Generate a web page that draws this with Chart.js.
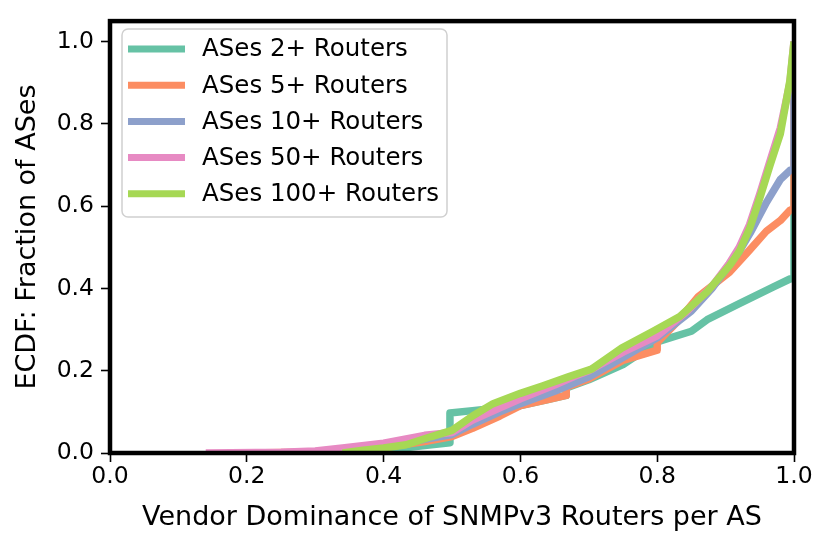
<!DOCTYPE html>
<html lang="en">
<head>
    <meta charset="UTF-8" />
    <title>ECDF - Vendor Dominance of SNMPv3 Routers</title>
    <style>
        html, body {
            margin: 0;
            padding: 0;
            background: #ffffff;
        }
        #wrap {
            width: 831px;
            height: 548px;
        }
    </style>
    <script src="https://cdn.jsdelivr.net/npm/chart.js"></script>
</head>
<body>
<div id="wrap"><canvas id="ecdf" width="831" height="548"></canvas></div>
<script>
    // series labels + colours (Set2)
    const seriesLabels = ['ASes 2+ Routers', 'ASes 5+ Routers', 'ASes 10+ Routers', 'ASes 50+ Routers', 'ASes 100+ Routers'];
    const seriesColors = ['#66c2a5', '#fc8d62', '#8da0cb', '#e78ac3', '#a6d854'];

    // ECDF points
    const x2 = [0.33, 0.38, 0.42, 0.46, 0.497, 0.497, 0.53, 0.56, 0.60, 0.64, 0.667, 0.667, 0.70, 0.75, 0.80, 0.85, 0.873, 0.92, 0.97, 0.994, 1.0, 1.0];
    const y2 = [0.0, 0.005, 0.01, 0.018, 0.025, 0.097, 0.103, 0.108, 0.115, 0.13, 0.14, 0.158, 0.178, 0.215, 0.27, 0.296, 0.324, 0.363, 0.404, 0.423, 0.425, 1.0];

    const x5 = [0.20, 0.33, 0.38, 0.42, 0.46, 0.50, 0.53, 0.57, 0.60, 0.64, 0.667, 0.667, 0.70, 0.75, 0.80, 0.80, 0.83, 0.86, 0.906, 0.936, 0.96, 0.98, 0.994, 1.0, 1.0];
    const y5 = [0.0, 0.003, 0.008, 0.018, 0.028, 0.04, 0.06, 0.09, 0.115, 0.13, 0.14, 0.16, 0.18, 0.225, 0.25, 0.268, 0.32, 0.38, 0.44, 0.495, 0.54, 0.565, 0.59, 0.595, 1.0];

    const x10 = [0.25, 0.33, 0.38, 0.42, 0.46, 0.50, 0.53, 0.57, 0.60, 0.65, 0.70, 0.75, 0.80, 0.85, 0.88, 0.92, 0.936, 0.96, 0.98, 0.994, 1.0, 1.0];
    const y10 = [0.0, 0.004, 0.01, 0.02, 0.033, 0.045, 0.07, 0.1, 0.12, 0.15, 0.185, 0.232, 0.28, 0.345, 0.40, 0.49, 0.535, 0.61, 0.665, 0.687, 0.69, 1.0];

    const x50 = [0.14, 0.25, 0.30, 0.34, 0.40, 0.46, 0.50, 0.53, 0.57, 0.60, 0.65, 0.68, 0.70, 0.75, 0.80, 0.843, 0.88, 0.905, 0.92, 0.935, 0.95, 0.965, 0.98, 0.994, 1.0];
    const y50 = [0.0, 0.002, 0.005, 0.012, 0.024, 0.043, 0.05, 0.08, 0.11, 0.132, 0.165, 0.187, 0.2, 0.245, 0.285, 0.344, 0.405, 0.46, 0.50, 0.555, 0.63, 0.71, 0.79, 0.90, 1.0];

    const x100 = [0.34, 0.37, 0.40, 0.433, 0.47, 0.50, 0.53, 0.56, 0.60, 0.632, 0.67, 0.704, 0.748, 0.794, 0.833, 0.873, 0.906, 0.92, 0.935, 0.95, 0.965, 0.98, 0.994, 1.0];
    const y100 = [0.0, 0.007, 0.012, 0.02, 0.04, 0.055, 0.09, 0.12, 0.145, 0.163, 0.185, 0.204, 0.255, 0.296, 0.332, 0.392, 0.456, 0.49, 0.545, 0.62, 0.70, 0.776, 0.905, 1.0];

    const xTicks = [0.0, 0.2, 0.4, 0.6, 0.8, 1.0];
    const yTicks = [0.0, 0.2, 0.4, 0.6, 0.8, 1.0];

    const seriesX = [x2, x5, x10, x50, x100];
    const seriesY = [y2, y5, y10, y50, y100];

    const FONT = 'DejaVu Sans';

    function zip(xs, ys) {
        return xs.map((x, i) => ({ x: x, y: ys[i] }));
    }

    // black box round the plot + legend inside it
    const framePlugin = {
        id: 'frame',
        afterDraw(chart) {
            const ctx = chart.ctx;
            const a = chart.chartArea;
            ctx.save();
            ctx.strokeStyle = '#000';
            ctx.lineWidth = 4.5;
            ctx.strokeRect(a.left, a.top, a.right - a.left, a.bottom - a.top);

            // legend
            const bx = 122, by = 29, bw = 325, bh = 188, r = 6;
            ctx.beginPath();
            ctx.moveTo(bx + r, by);
            ctx.arcTo(bx + bw, by, bx + bw, by + bh, r);
            ctx.arcTo(bx + bw, by + bh, bx, by + bh, r);
            ctx.arcTo(bx, by + bh, bx, by, r);
            ctx.arcTo(bx, by, bx + bw, by, r);
            ctx.closePath();
            ctx.fillStyle = 'rgba(255,255,255,0.8)';
            ctx.fill();
            ctx.strokeStyle = '#d0d0d0';
            ctx.lineWidth = 1.5;
            ctx.stroke();

            ctx.font = '24.5px "' + FONT + '"';
            ctx.textBaseline = 'middle';
            ctx.textAlign = 'left';
            seriesLabels.forEach((lbl, i) => {
                const yy = 49 + i * 36.2;
                ctx.strokeStyle = seriesColors[i];
                ctx.lineWidth = 7;
                ctx.beginPath();
                ctx.moveTo(128, yy);
                ctx.lineTo(185, yy);
                ctx.stroke();
                ctx.fillStyle = '#000';
                ctx.fillText(lbl, 202, yy + 1);
            });
            ctx.restore();
        }
    };

    const datasets = seriesLabels.map((lbl, i) => ({
        label: lbl,
        data: zip(seriesX[i], seriesY[i]),
        borderColor: seriesColors[i],
        backgroundColor: seriesColors[i],
        borderWidth: 7.5,
        pointRadius: 0,
        tension: 0,
        fill: false,
        borderJoinStyle: 'round',
        order: seriesLabels.length - 1 - i
    }));

    new Chart(document.getElementById('ecdf'), {
        type: 'line',
        data: { datasets: datasets },
        options: {
            responsive: false,
            animation: false,
            devicePixelRatio: 1,
            layout: { padding: { left: 0, right: 37, top: 17, bottom: 0 } },
            plugins: {
                legend: { display: false },
                tooltip: { enabled: false }
            },
            scales: {
                x: {
                    type: 'linear',
                    min: 0,
                    max: 1,
                    afterFit(scale) { scale.height = 95; },
                    afterBuildTicks(scale) { scale.ticks = xTicks.map(v => ({ value: v })); },
                    border: { display: false },
                    grid: { drawOnChartArea: false, drawTicks: true, tickLength: 9, tickColor: '#000', tickWidth: 1.6 },
                    ticks: {
                        color: '#000',
                        padding: 1,
                        maxRotation: 0,
                        font: { family: FONT, size: 23.5 },
                        callback: v => Number(v).toFixed(1)
                    },
                    title: {
                        display: true,
                        text: 'Vendor Dominance of SNMPv3 Routers per AS',
                        color: '#000',
                        font: { family: FONT, size: 27 },
                        padding: { top: 0, bottom: 14 }
                    }
                },
                y: {
                    type: 'linear',
                    min: 0,
                    max: 1.05,
                    afterFit(scale) { scale.width = 110; },
                    afterBuildTicks(scale) { scale.ticks = yTicks.map(v => ({ value: v })); },
                    border: { display: false },
                    grid: { drawOnChartArea: false, drawTicks: true, tickLength: 9, tickColor: '#000', tickWidth: 1.6 },
                    ticks: {
                        color: '#000',
                        padding: 7,
                        font: { family: FONT, size: 23.5 },
                        callback: v => Number(v).toFixed(1)
                    },
                    title: {
                        display: true,
                        text: 'ECDF: Fraction of ASes',
                        color: '#000',
                        font: { family: FONT, size: 27 },
                        padding: { top: 12, bottom: 0 }
                    }
                }
            }
        },
        plugins: [framePlugin]
    });
</script>
</body>
</html>
